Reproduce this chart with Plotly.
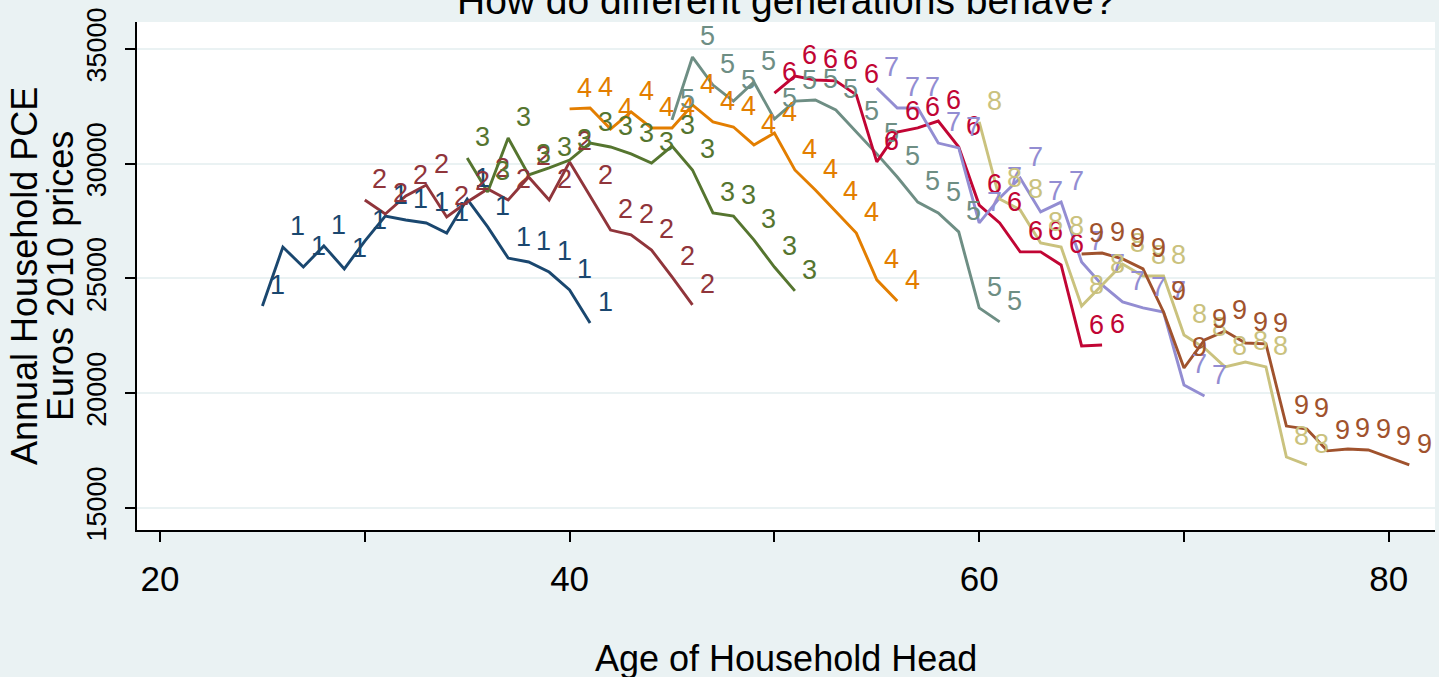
import plotly.graph_objects as go

# ---------------- data ----------------
cohort_names = ["1", "2", "3", "4", "5", "6", "7", "8", "9"]
cohort_first_age = [25, 30, 35, 40, 45, 50, 55, 60, 65]

pce_1 = [23800, 26370, 25500, 26420, 25420, 26630, 27720, 27550, 27420, 26980, 28460, 27250, 25890, 25720, 25280, 24500, 23060]
pce_2 = [28420, 27810, 28600, 29070, 27680, 28330, 28900, 28420, 29420, 28420, 30080, 28600, 27110, 26900, 26240, 25070, 23850]
pce_3 = [30250, 28770, 31120, 29510, 29820, 30160, 30900, 30730, 30430, 30030, 30770, 29730, 27860, 27720, 26680, 25500, 24460]
pce_4 = [32390, 32430, 31510, 32260, 31560, 31560, 32560, 31820, 31600, 30820, 31340, 29730, 28860, 27900, 26980, 24940, 24020]
pce_5 = [31910, 34650, 33430, 32730, 33560, 31950, 32730, 32780, 32340, 31380, 30430, 29420, 28330, 27860, 27030, 23720, 23110]
pce_6 = [33080, 33820, 33650, 33610, 33000, 30080, 31380, 31560, 31860, 30730, 28200, 27420, 26160, 26160, 25590, 22060, 22100]
pce_7 = [33300, 32430, 32430, 30900, 30690, 27420, 28510, 29380, 27900, 28330, 25720, 24720, 23980, 23720, 23540, 20360, 19880]
pce_8 = [31820, 28460, 27990, 26550, 26370, 23800, 24720, 25630, 25110, 25110, 22540, 21970, 21150, 21360, 21150, 17220, 16880]
pce_9 = [26070, 26110, 25850, 25420, 23540, 21100, 22320, 22710, 22190, 22150, 18570, 18440, 17490, 17570, 17530, 17220, 16880]
pce_series = [pce_1, pce_2, pce_3, pce_4, pce_5, pce_6, pce_7, pce_8, pce_9]

x_tick_vals = [20, 30, 40, 50, 60, 70, 80]
x_tick_text = ["20", "", "40", "", "60", "", "80"]
y_tick_vals = [15000, 20000, 25000, 30000, 35000]
y_tick_text = ["15000", "20000", "25000", "30000", "35000"]

title_text = "How do different generations behave?"
x_title = "Age of Household Head"
y_title_1 = "Annual Household PCE"
y_title_2 = "Euros 2010 prices"

# ---------------- style ----------------
colors = ["#1a476f", "#90353b", "#55752f", "#e37e00", "#6e8e84",
          "#c10534", "#938dd2", "#cac27e", "#a0522d"]
bg = "#eaf2f3"
FONT = "Arial, Liberation Sans, Helvetica, sans-serif"

fig = go.Figure()
annotations = []
for name, first, vals, col in zip(cohort_names, cohort_first_age, pce_series, colors):
    ages = list(range(first, first + len(vals)))
    fig.add_trace(go.Scatter(
        x=ages, y=vals, mode="lines",
        line=dict(color=col, width=2.9),
        showlegend=False, hoverinfo="skip"))
    for a, v in zip(ages, vals):
        annotations.append(dict(
            x=a, y=v, xref="x", yref="y", text=name, showarrow=False,
            xshift=15, yshift=21, xanchor="center", yanchor="middle",
            font=dict(family=FONT, size=27, color=col)))

# titles as annotations
annotations.append(dict(
    x=0.5, y=1.0, xref="paper", yref="paper", text=title_text,
    showarrow=False, xanchor="center", yanchor="bottom", yshift=-2,
    font=dict(family=FONT, size=39, color="black")))
annotations.append(dict(
    x=0.5, y=0, xref="paper", yref="paper", text=x_title,
    showarrow=False, xanchor="center", yanchor="middle", yshift=-128,
    font=dict(family=FONT, size=36, color="black")))
annotations.append(dict(
    x=0, y=0.5, xref="paper", yref="paper", text=y_title_1,
    showarrow=False, xanchor="center", yanchor="middle", xshift=-113,
    textangle=-90, font=dict(family=FONT, size=36, color="black")))
annotations.append(dict(
    x=0, y=0.5, xref="paper", yref="paper", text=y_title_2,
    showarrow=False, xanchor="center", yanchor="middle", xshift=-77,
    textangle=-90, font=dict(family=FONT, size=36, color="black")))

fig.update_layout(
    width=1439, height=677,
    margin=dict(l=137, r=4, t=22, b=147),
    paper_bgcolor=bg, plot_bgcolor="white",
    annotations=annotations,
    font=dict(family=FONT, color="black"),
)
fig.update_xaxes(
    range=[18.877, 82.256], tickvals=x_tick_vals, ticktext=x_tick_text,
    ticks="outside", ticklen=10, tickwidth=2, tickcolor="black",
    showline=True, linecolor="black", linewidth=2,
    showgrid=False, zeroline=False,
    tickfont=dict(family=FONT, size=35, color="black"),
    ticklabelstandoff=7)
fig.update_yaxes(
    range=[14041, 36176], tickvals=y_tick_vals, ticktext=y_tick_text,
    tickangle=-90,
    ticks="outside", ticklen=10, tickwidth=2, tickcolor="black",
    showline=True, linecolor="black", linewidth=2,
    showgrid=True, gridcolor=bg, gridwidth=2, zeroline=False,
    tickfont=dict(family=FONT, size=27, color="black"),
    ticklabelstandoff=8)

fig.write_html(
    "out.html",
    config={"displayModeBar": False},
    post_script="document.body.style.margin='0';document.body.style.overflow='hidden';"
                "document.documentElement.style.background='" + bg + "';")
